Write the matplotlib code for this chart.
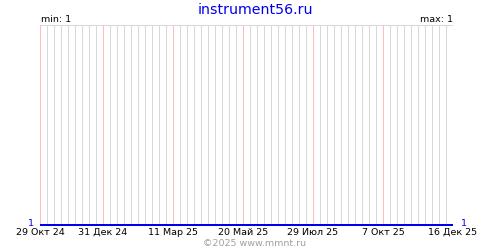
import matplotlib
matplotlib.use("Agg")
import matplotlib.pyplot as plt
import matplotlib.dates as mdates
import numpy as np
from datetime import date

# podaci
naslov = "instrument56.ru"
datumi = [date(2024, 10, 29), date(2024, 12, 31), date(2025, 3, 11), date(2025, 5, 20),
          date(2025, 7, 29), date(2025, 10, 7), date(2025, 12, 16)]
vrijednosti = [1, 1, 1, 1, 1, 1, 1]
mjeseci = ["Янв", "Фев", "Мар", "Апр", "Май", "Июн", "Июл", "Авг", "Сен", "Окт", "Ноя", "Дек"]

px = 0.72  # 1 piksel u tockama

fig = plt.figure(figsize=(5, 2.5), dpi=100)
ax = fig.add_axes([40 / 500, 25 / 250, 413 / 500, 200 / 250])

x = mdates.date2num(datumi)
x0, x1 = x[0], x[-1]

# tjedne sive linije i crvenkaste linije na oznakama
for xi in np.arange(x0, x1 + 1, 7):
    ax.axvline(xi, color="#d8d8d8", lw=px, zorder=1)
for xi in x:
    ax.axvline(xi, color="#ffbcbc", lw=px, zorder=2)
ax.axhline(2, color="#d8d8d8", lw=px, zorder=1)

ax.plot(x, vrijednosti, color="#0000ee", lw=2 * px, zorder=3, solid_capstyle="butt", clip_on=False)

ax.set_xlim(x0, x1)
ax.set_ylim(1, 2)
for s in ax.spines.values():
    s.set_visible(False)
ax.set_yticks([])
ax.set_xticks(x)
ax.set_xticklabels([f"{d.day} {mjeseci[d.month - 1]} {d.year % 100}" for d in datumi],
                   fontsize=6.8, family="DejaVu Sans")
ax.tick_params(axis="x", length=0, pad=2)

fig.text(0.51, 0.988, naslov, ha="center", va="top", color="#0000ee", fontsize=10.2)
fig.text(41 / 500, 1 - 20 / 250, "min: 1", ha="left", va="center", fontsize=6.8)
fig.text(453 / 500, 1 - 20 / 250, "max: 1", ha="right", va="center", fontsize=6.8)
fig.text(31 / 500, 1 - 223 / 250, "1", ha="center", va="center", color="#0000ee", fontsize=6.8)
fig.text(464 / 500, 1 - 223 / 250, "1", ha="center", va="center", color="#0000ee", fontsize=6.8)
fig.text(255 / 500, 1 - 243 / 250, "©2025 www.mmnt.ru", ha="center", va="center",
         color="#a0a0a0", fontsize=6.8)

fig.savefig("out.png", dpi=100, facecolor="white")
